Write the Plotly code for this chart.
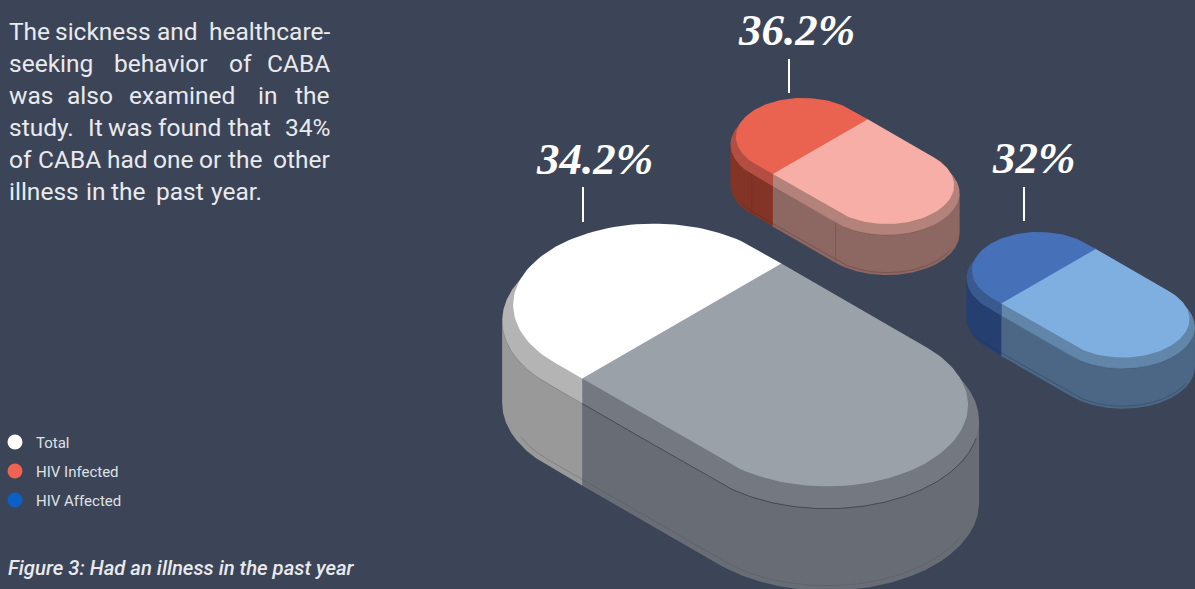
import numpy as np
import plotly.graph_objects as go

# Data
categories = ["Total", "HIV Infected", "HIV Affected"]
had_illness_pct = [34.2, 36.2, 32.0]

body_lines = [
    ["The", "sickness", "and", "healthcare-"],
    ["seeking", "behavior", "of", "CABA"],
    ["was", "also", "examined", "in", "the"],
    ["study.", "It", "was", "found", "that", "34%"],
    ["of", "CABA", "had", "one", "or", "the", "other"],
    ["illness", "in", "the", "past", "year."],
]
caption = "Figure 3: Had an illness in the past year"

# Left edge of each word, so the paragraph keeps its justified setting
body_word_x = [
    [9, 55, 157, 201],
    [9, 114, 229, 263],
    [9, 67, 129, 258, 291],
    [9, 88, 108, 158, 228, 280],
    [9, 38, 107, 153, 199, 228, 268],
    [9, 86, 111, 156, 211],
]
BODY_TOP, BODY_STEP, BODY_RIGHT = 31, 32, 330

# Pill geometry: left cap centre, cap radius, straight length, rim growth, rim drop, wall height
pill_geometry = {
    "HIV Infected": dict(ox=803, oy=136.7, r=54.8, straight=97, grow=4.5, drop=8, wall=40),
    "HIV Affected": dict(ox=1038.7, oy=270.5, r=54.5, straight=97, grow=4.5, drop=8, wall=40),
    "Total": dict(ox=654, oy=305, r=115, straight=200, grow=9, drop=16, wall=82),
}
pill_palette = {
    "Total": dict(top="#ffffff", top2="#9aa1a9", rim="#b4b4b4", rim2="#737881", wall="#999999", wall2="#686d75",
                  edge="rgba(40,45,55,0.6)", edge_left="rgba(60,60,60,0.2)", low="rgba(70,75,85,0.3)", joint=None),
    "HIV Infected": dict(top="#e96350", top2="#f6aea6", rim="#b34f42", rim2="#b3827b", wall="#843426", wall2="#8d6762",
                         edge="rgba(60,30,30,0.15)", edge_left="rgba(60,30,30,0.15)", low="rgba(70,40,40,0.3)",
                         joint="rgba(70,40,40,0.22)"),
    "HIV Affected": dict(top="#4670b8", top2="#7fafe1", rim="#39598f", rim2="#6186a9", wall="#243f70", wall2="#4b6785",
                         edge="rgba(25,40,70,0.15)", edge_left="rgba(25,40,70,0.15)", low="rgba(30,50,80,0.35)", joint=None),
}
label_pos = {"Total": (594, 159), "HIV Infected": (796, 30), "HIV Affected": (1034, 158)}
leader_pos = {"Total": (583, 187, 222), "HIV Infected": (789, 59, 93), "HIV Affected": (1024, 187, 221)}
legend_colors = {"Total": "#ffffff", "HIV Infected": "#ee6352", "HIV Affected": "#0a60c5"}
legend_y = {"Total": 442, "HIV Infected": 471, "HIV Affected": 500}

BG = "#3c4457"
TEXT = "#e9eaed"
COS30, SIN30 = np.cos(np.pi / 6), 0.5


def project(g, u, v, dy=0.0):
    """Isometric projection of pill-plane coordinates (u along the pill, v across it)."""
    u, v = np.asarray(u, float), np.asarray(v, float)
    return g["ox"] + (u + v) * COS30, g["oy"] + (u - v) * SIN30 + dy


def cap(cu, r, a0, a1, n=80):
    t = np.radians(np.linspace(a0, a1, n))
    return cu + r * np.cos(t), r * np.sin(t)


def stadium(g, r, dy=0.0):
    u1, v1 = cap(g["straight"], r, -90, 90)
    u2, v2 = cap(0, r, 90, 270)
    return project(g, np.r_[u1, u2, u1[0]], np.r_[v1, v2, v1[0]], dy)


def envelopes(px, py):
    """Upper and lower boundary of a convex outline as functions of x."""
    i0, i1 = int(np.argmin(px[:-1])), int(np.argmax(px[:-1]))
    x, y = np.roll(px[:-1], -i0), np.roll(py[:-1], -i0)
    k = (i1 - i0) % len(x)
    a = (x[:k + 1], y[:k + 1])
    b = (np.r_[x[k:], x[0]], np.r_[y[k:], y[0]])
    def chain(c):
        o = np.argsort(c[0])
        return lambda q: np.interp(q, c[0][o], c[1][o])
    fa, fb = chain(a), chain(b)
    xm = 0.5 * (px.min() + px.max())
    if fa(xm) < fb(xm):
        return fa, fb, px.min(), px.max()
    return fb, fa, px.min(), px.max()


def span(lo, hi, n=300):
    return lo + (hi - lo) * (1 - np.cos(np.linspace(0, np.pi, n))) / 2


fig = go.Figure()


def add_fill(x, y, color):
    fig.add_trace(go.Scatter(x=x, y=y, mode="lines", fill="toself", fillcolor=color,
                             line=dict(width=0), hoverinfo="skip", showlegend=False))


def add_line(x, y, color, width=1):
    fig.add_trace(go.Scatter(x=x, y=y, mode="lines", line=dict(color=color, width=width),
                             hoverinfo="skip", showlegend=False))


def draw_pill(name, pct):
    g, c = pill_geometry[name], pill_palette[name]
    r, s = g["r"], g["straight"]
    # The seam sits at the share of the pill's full length given by the value
    seam = (s + 2 * r) * pct / 100 - r
    seam_x, _ = project(g, seam, -r)

    px, py = stadium(g, r + g["grow"], g["drop"])
    upper, lower, xmin, xmax = envelopes(px, py)

    for lo, hi, wall_col, rim_col in ((seam_x - 1, xmax, c["wall2"], c["rim2"]),
                                      (xmin, seam_x, c["wall"], c["rim"])):
        xs = span(lo, hi)
        add_fill(np.r_[xs, xs[::-1]],
                 np.r_[(upper(xs) + lower(xs)) / 2, (lower(xs) + g["wall"])[::-1]], wall_col)
        add_fill(np.r_[xs, xs[::-1]], np.r_[upper(xs), lower(xs)[::-1]], rim_col)

    # Fine edges: rim against wall, and the moulded lip close to the base
    xs = span(xmin, seam_x, 150)
    add_line(xs, lower(xs), c["edge_left"])
    xs = span(seam_x, xmax - 3, 200)
    add_line(xs, lower(xs), c["edge"])

    lip = g["grow"] * 0.6
    lx, ly = stadium(g, r + lip, g["drop"] + g["wall"] * 0.97)
    _, low2, a, b = envelopes(lx, ly)
    xs2 = span(a + (b - a) * 0.03, b - (b - a) * 0.03)
    add_line(xs2, low2(xs2), c["low"])

    # Joints where the caps meet the straight side
    if c["joint"]:
        for u0 in (0, s):
            jx, _ = project(g, u0, -(r + g["grow"]))
            jy = float(lower(jx))
            add_line([jx, jx], [jy, jy + g["wall"] * 0.95], c["joint"])

    # Top face, split across the pill at the seam
    u, v = cap(s, r, -90, 90)
    x, y = project(g, np.r_[seam - 1, u, seam - 1], np.r_[-r, v, r])
    add_fill(x, y, c["top2"])
    u, v = cap(0, r, 90, 270)
    x, y = project(g, np.r_[seam, u, seam], np.r_[r, v, -r])
    add_fill(x, y, c["top"])


for name in ["HIV Infected", "HIV Affected", "Total"]:
    draw_pill(name, had_illness_pct[categories.index(name)])

# Value labels and their leader ticks
annotations = []
for name, pct in zip(categories, had_illness_pct):
    lx, y0, y1 = leader_pos[name]
    add_line([lx, lx], [y0, y1], "#ffffff", 2)
    tx, ty = label_pos[name]
    annotations.append(dict(x=tx, y=ty, text=f"<b><i>{pct:g}%</i></b>", showarrow=False,
                            xanchor="center", yanchor="middle",
                            font=dict(family="Liberation Serif", size=45, color="#ffffff")))

# Legend
fig.add_trace(go.Scatter(x=[15] * 3, y=[legend_y[n] for n in categories], mode="markers",
                         marker=dict(size=15, color=[legend_colors[n] for n in categories]),
                         hoverinfo="skip", showlegend=False))
for n in categories:
    annotations.append(dict(x=36, y=legend_y[n] + 1, text=n, showarrow=False, xanchor="left", yanchor="middle",
                            font=dict(family="Roboto", size=15, color="#dfe1e5")))

# Justified paragraph, set word by word; all lines but the last run flush to the right edge
for i, (words, xs) in enumerate(zip(body_lines, body_word_x)):
    for j, (w, x) in enumerate(zip(words, xs)):
        flush = j == len(words) - 1 and i < len(body_lines) - 1
        annotations.append(dict(x=BODY_RIGHT if flush else x, y=BODY_TOP + i * BODY_STEP, text=w, showarrow=False,
                                xanchor="right" if flush else "left", yanchor="middle",
                                font=dict(family="Roboto", size=24.5, color=TEXT, weight=400)))

annotations.append(dict(x=8, y=568, text=f"<i>{caption}</i>", showarrow=False, xanchor="left", yanchor="middle",
                        font=dict(family="Roboto", size=20.3, color=TEXT, weight=500)))
for a in annotations:
    a.update(xref="x", yref="y", borderpad=0, borderwidth=0)

fig.update_layout(
    width=1195, height=589, margin=dict(l=0, r=0, t=0, b=0, pad=0),
    paper_bgcolor=BG, plot_bgcolor=BG, showlegend=False, annotations=annotations,
    xaxis=dict(range=[0, 1195], visible=False, fixedrange=True),
    yaxis=dict(range=[589, 0], visible=False, fixedrange=True),
)
fig.write_html("out.html", config={"displayModeBar": False})
